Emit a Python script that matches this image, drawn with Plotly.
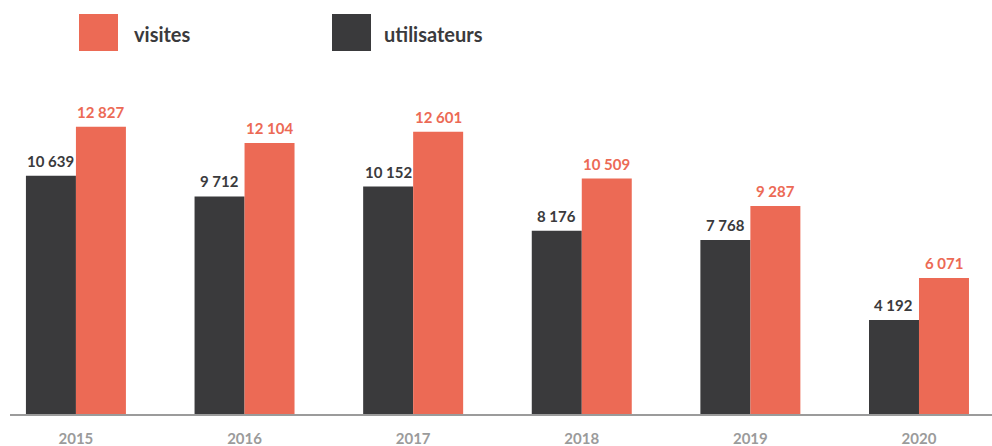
import plotly.graph_objects as go

years = ["2015", "2016", "2017", "2018", "2019", "2020"]
utilisateurs = [10639, 9712, 10152, 8176, 7768, 4192]
visites = [12827, 12104, 12601, 10509, 9287, 6071]

DARK = "#3a3a3c"
RED = "#ec6a55"
GREY = "#9b9b9b"
FONT = "Lato"
BARGAP = 0.407

def fmt(v):
    return f"{v:,}".replace(",", " ")

x = list(range(len(years)))

fig = go.Figure()
fig.add_trace(go.Bar(x=x, y=utilisateurs, name="utilisateurs",
                     marker=dict(color=DARK, line=dict(width=0))))
fig.add_trace(go.Bar(x=x, y=visites, name="visites",
                     marker=dict(color=RED, line=dict(width=0))))

# Value labels centred over each bar of the pair
half = (1 - BARGAP) / 4
for series, color, off in [(utilisateurs, DARK, -half), (visites, RED, half)]:
    for xi, v in zip(x, series):
        fig.add_annotation(x=xi + off, y=v, xref="x", yref="y", text=fmt(v),
                           showarrow=False, yanchor="bottom", yshift=4,
                           font=dict(family=FONT, size=15, color=color, weight="bold"))

fig.update_layout(
    width=992, height=446,
    margin=dict(l=10, r=0, t=60, b=32),
    paper_bgcolor="white", plot_bgcolor="white",
    barmode="group", bargap=BARGAP, bargroupgap=0,
    showlegend=False,
    font=dict(family=FONT),
    xaxis=dict(
        range=[-0.391, 5.433], tickvals=x, ticktext=years,
        showgrid=False, zeroline=False, showline=True, linecolor=GREY, linewidth=2,
        ticks="", ticklabelstandoff=10,
        tickfont=dict(family=FONT, size=15, color=GREY, weight="bold"),
        fixedrange=True,
    ),
    yaxis=dict(range=[0, 15804], visible=False, fixedrange=True),
)

# Legend drawn as coloured squares with labels (pixel positions converted to paper units)
PL, PW, PB, PH = 10, 982, 32, 354
def px_x(p):
    return (p - PL) / PW
def px_y(p):
    return (446 - p - PB) / PH

legend_items = [("visites", RED, 79, 118, 132), ("utilisateurs", DARK, 332, 371, 382)]
for label, color, sx0, sx1, tx in legend_items:
    fig.add_shape(type="rect", xref="paper", yref="paper",
                  x0=px_x(sx0), x1=px_x(sx1), y0=px_y(51), y1=px_y(14),
                  fillcolor=color, line=dict(width=0), layer="above")
    fig.add_annotation(xref="paper", yref="paper", x=px_x(tx), y=px_y(34),
                       text=label, showarrow=False, xanchor="left", yanchor="middle",
                       font=dict(family=FONT, size=20, color=DARK, weight="bold"))

fig.write_html("out.html")
